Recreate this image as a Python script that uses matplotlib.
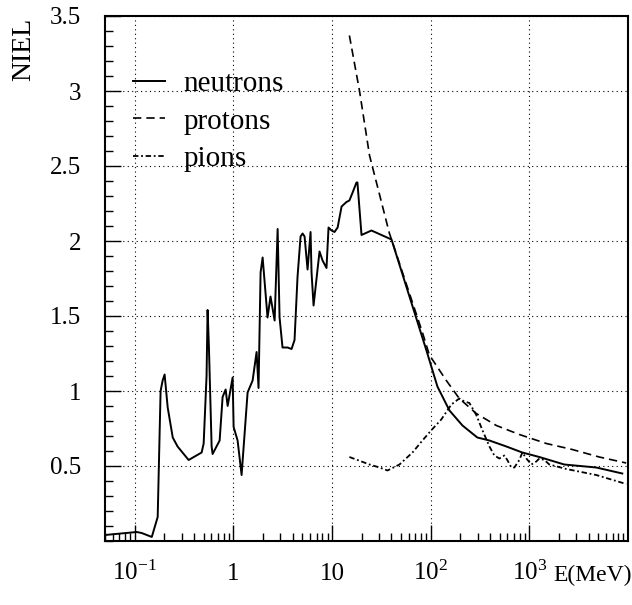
"""NIEL versus energy for neutrons, protons and pions."""
import matplotlib
matplotlib.use("Agg")
import matplotlib.pyplot as plt
from matplotlib.ticker import FixedLocator, FixedFormatter, LogLocator, MultipleLocator, NullFormatter

# neutron damage curve (E in MeV, NIEL)
neutron_e = [0.05, 0.105, 0.118, 0.149, 0.171, 0.183, 0.192, 0.201, 0.216, 0.243,
             0.272, 0.352, 0.477, 0.50, 0.535, 0.548, 0.565, 0.602, 0.616, 0.726,
             0.778, 0.835, 0.875, 0.983, 1.006, 1.104, 1.212, 1.394, 1.567, 1.72,
             1.80, 1.888, 1.98, 2.22, 2.38, 2.62, 2.81, 2.94, 3.15, 3.54,
             3.89, 4.17, 4.47, 4.80, 5.03, 5.27, 5.65, 6.06, 6.20, 6.50,
             7.47, 8.02, 8.79, 9.22, 9.89, 10.6, 11.4, 12.5, 14.0, 15.0,
             16.1, 17.7, 18.1, 19.9, 25.1, 40.1, 90.6, 117, 155, 210,
             297, 394, 585, 849, 1262, 2259, 4764, 8750]
neutron_niel = [0.04, 0.06, 0.053, 0.027, 0.16, 1.0, 1.07, 1.11, 0.89, 0.69,
                0.63, 0.54, 0.59, 0.65, 1.1, 1.54, 1.3, 0.63, 0.58, 0.67,
                0.96, 1.01, 0.9, 1.09, 0.76, 0.67, 0.44, 0.99, 1.07, 1.26,
                1.02, 1.79, 1.89, 1.49, 1.63, 1.47, 2.08, 1.49, 1.29, 1.29,
                1.28, 1.34, 1.76, 2.03, 2.05, 2.03, 1.81, 2.06, 1.79, 1.57,
                1.93, 1.87, 1.82, 2.09, 2.07, 2.06, 2.09, 2.23, 2.26, 2.27,
                2.32, 2.39, 2.39, 2.04, 2.07, 2.01, 1.27, 1.03, 0.87, 0.77,
                0.69, 0.67, 0.63, 0.59, 0.56, 0.51, 0.49, 0.45]

proton_e = [15.0, 19.0, 24.0, 30.3, 38.2, 40.1, 82.5, 97.0, 144, 195,
            290, 463, 792, 1487, 2723, 5114, 9590]
proton_niel = [3.37, 3.0, 2.57, 2.31, 2.05, 2.01, 1.39, 1.24, 1.07, 0.95,
               0.85, 0.77, 0.71, 0.65, 0.61, 0.56, 0.52]

pion_e = [15.0, 24.0, 30.3, 36.5, 48.3, 65.4, 82.5, 102, 128, 162,
          195, 220, 247, 290, 334, 394, 442, 497, 558, 598,
          657, 705, 792, 849, 933, 1048, 1177, 1262, 1419, 1595,
          2371, 4763, 9590]
pion_niel = [0.56, 0.51, 0.49, 0.47, 0.51, 0.59, 0.67, 0.74, 0.81, 0.91,
             0.95, 0.93, 0.92, 0.84, 0.74, 0.63, 0.57, 0.55, 0.57, 0.54,
             0.49, 0.49, 0.54, 0.59, 0.55, 0.51, 0.53, 0.55, 0.54, 0.51,
             0.48, 0.44, 0.38]

xtick_vals = [0.1, 1, 10, 100, 1000]
xtick_labels = ["$10^{-1}$", "1", "10", "$10^{2}$", "$10^{3}$"]
ytick_vals = [0.5, 1, 1.5, 2, 2.5, 3, 3.5]
ytick_labels = ["0.5", "1", "1.5", "2", "2.5", "3", "3.5"]

plt.rcParams["font.family"] = ["Liberation Serif", "DejaVu Serif"]
plt.rcParams["mathtext.fontset"] = "custom"
plt.rcParams["mathtext.rm"] = "Liberation Serif"
plt.rcParams["mathtext.it"] = "Liberation Serif:italic"

fig = plt.figure(figsize=(6.32, 6.05), dpi=100)
ax = fig.add_axes([105 / 632, 64 / 605, 523 / 632, 525 / 605])

ax.plot(neutron_e, neutron_niel, color="black", lw=1.4, label="neutrons")
ax.plot(proton_e, proton_niel, color="black", lw=1.2, dashes=(5, 3), label="protons")
ax.plot(pion_e, pion_niel, color="black", lw=1.3, dashes=(3, 1.5, 1, 1.5), label="pions")

ax.set_xscale("log")
ax.set_xlim(0.05, 1e4)
ax.set_ylim(0, 3.5)

ax.xaxis.set_major_locator(FixedLocator(xtick_vals))
ax.xaxis.set_major_formatter(FixedFormatter(xtick_labels))
ax.xaxis.set_minor_locator(LogLocator(base=10, subs=range(2, 10), numticks=20))
ax.xaxis.set_minor_formatter(NullFormatter())
ax.yaxis.set_major_locator(FixedLocator(ytick_vals))
ax.yaxis.set_major_formatter(FixedFormatter(ytick_labels))
ax.yaxis.set_minor_locator(MultipleLocator(0.1))

ax.tick_params(which="both", direction="in", top=False, right=False, labelsize=18, width=1.0)
ax.tick_params(which="major", length=11.5)
ax.tick_params(which="minor", length=5.8)
ax.tick_params(axis="x", pad=28)
ax.tick_params(axis="y", pad=17)
for lbl in ax.get_xticklabels():
    lbl.set_verticalalignment("baseline")

for s in ax.spines.values():
    s.set_linewidth(1.5)

ax.grid(True, which="major", color="black", lw=0.8, linestyle=(0, (1, 3)))

ax.set_xlabel("E(MeV)", fontsize=17, ha="right", va="center")
ax.xaxis.set_label_coords(1.0065, -0.066)
ax.set_ylabel("NIEL", fontsize=20)
ax.yaxis.set_label_coords(-0.155, 0.996)
ax.yaxis.label.set_ha("right")
ax.yaxis.label.set_va("center")

ax.legend(loc="upper left", bbox_to_anchor=(0.0535, 0.896), frameon=False,
          fontsize=21, handlelength=1.1, handletextpad=0.62, labelspacing=0.38,
          borderpad=0, borderaxespad=0)

fig.savefig("out.png", dpi=100)
